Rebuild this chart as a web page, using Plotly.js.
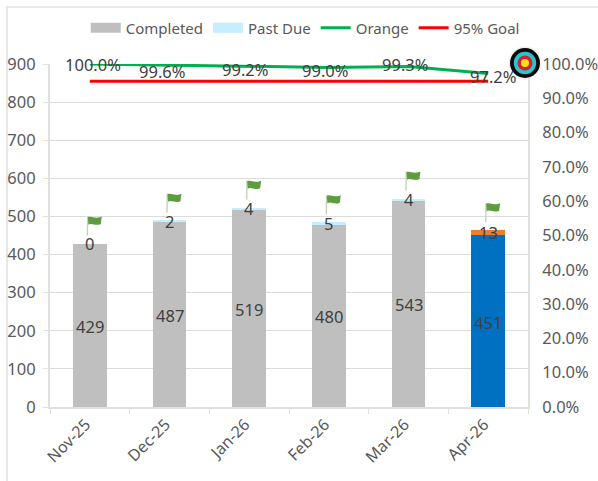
<!DOCTYPE html>
<html>
<head>
<meta charset="utf-8">
<script src="https://cdn.plot.ly/plotly-3.0.1.min.js"></script>
<style>html,body{margin:0;padding:0;background:#fff;overflow:hidden}#c{width:598px;height:481px}</style>
</head>
<body>
<div id="c"></div>
<script>
const categories = ['Nov-25','Dec-25','Jan-26','Feb-26','Mar-26','Apr-26'];
const completed = [429,487,519,480,543,451];
const pastDue = [0,2,4,5,4,13];
const orange = [100.0,99.6,99.2,99.0,99.3,97.2];
const goal = [95,95,95,95,95,95];
const completedColors = ['#BFBFBF','#BFBFBF','#BFBFBF','#BFBFBF','#BFBFBF','#0070C0'];
const pastDueColors = ['#C5EEFF','#C5EEFF','#C5EEFF','#C5EEFF','#C5EEFF','#ED7D31'];

const FONT = '"Noto Sans", sans-serif';
const SIZE = 16.5;
const AXIS = '#595959', LABEL = '#404040', GRID = '#DCDCDC', LINE = '#E0E0E0';

const svgUri = s => 'data:image/svg+xml;utf8,' + encodeURIComponent(s);
const flagSvg = svgUri('<svg xmlns="http://www.w3.org/2000/svg" width="40" height="30" viewBox="0 0 40 30">' +
  '<path d="M17.5 22 L17.8 3" stroke="#C4D4B8" stroke-width="1.4" fill="none"/>' +
  '<path d="M18 3.5 C22 2,25 6,32 3 L31 10.5 C26 13,22 9,18.5 11 Z" fill="#5E9C3F"/></svg>');
const targetSvg = svgUri('<svg xmlns="http://www.w3.org/2000/svg" width="34" height="34" viewBox="0 0 34 34">' +
  '<circle cx="17" cy="17" r="16.8" fill="#F4E4E4" opacity="0.5"/>' +
  '<circle cx="17" cy="17" r="15" fill="#0A0A0A"/>' +
  '<circle cx="17" cy="17" r="11.2" fill="#25C6D0"/>' +
  '<circle cx="17" cy="17" r="7.5" fill="#D6202A"/>' +
  '<circle cx="17" cy="17" r="4" fill="#F5E21C"/></svg>');

const lineNudge = [[3,0],[-8,6],[-4,3],[-4,3],[-4,-2],[5,3]];

const annotations = [];
const addLabel = (i, y, yref, text, dx, dy) => annotations.push({
  x: categories[i], y, xref: 'x', yref, text: String(text), showarrow: false,
  xshift: dx, yshift: -dy, font: {family: FONT, size: SIZE, color: LABEL}
});
categories.forEach((_, i) => {
  addLabel(i, completed[i] / 2, 'y', completed[i], 0, 1);
  addLabel(i, completed[i] + pastDue[i] / 2, 'y', pastDue[i], 0, 0);
  addLabel(i, orange[i], 'y2', orange[i].toFixed(1) + '%', lineNudge[i][0], lineNudge[i][1]);
});

const images = categories.map((c, i) => ({
  source: flagSvg, xref: 'x', yref: 'y', x: i, y: completed[i] + pastDue[i],
  sizex: 0.5, sizey: 78.7, xanchor: 'center', yanchor: 'bottom', sizing: 'stretch', layer: 'above'
}));
images.push({
  source: targetSvg, xref: 'paper', yref: 'paper', x: (525 - 50) / 478, y: (407 - 63) / 343,
  sizex: 34 / 478, sizey: 34 / 343, xanchor: 'center', yanchor: 'middle', sizing: 'stretch', layer: 'above'
});

const noValues = categories.map(() => null);
const traces = [
  {type: 'bar', x: categories, y: completed, name: 'Completed', marker: {color: completedColors}, width: 0.42, showlegend: false, hoverinfo: 'x+y'},
  {type: 'bar', x: categories, y: pastDue, name: 'Past Due', marker: {color: pastDueColors}, width: 0.42, showlegend: false, hoverinfo: 'x+y'},
  {type: 'scatter', mode: 'lines', x: categories, y: noValues, name: 'Completed', line: {color: '#BFBFBF', width: 10}, hoverinfo: 'skip'},
  {type: 'scatter', mode: 'lines', x: categories, y: noValues, name: 'Past Due', line: {color: '#C5EEFF', width: 10}, hoverinfo: 'skip'},
  {type: 'scatter', mode: 'lines', x: categories, y: orange, name: 'Orange', yaxis: 'y2', line: {color: '#00B050', width: 3}, cliponaxis: false},
  {type: 'scatter', mode: 'lines', x: categories, y: goal, name: '95% Goal', yaxis: 'y2', line: {color: '#FF0000', width: 3}, cliponaxis: false}
];

const layout = {
  width: 598, height: 481, barmode: 'stack',
  margin: {l: 50, r: 70, t: 64, b: 74, pad: 0},
  paper_bgcolor: '#fff', plot_bgcolor: '#fff',
  font: {family: FONT, size: SIZE, color: AXIS},
  showlegend: true,
  legend: {orientation: 'h', x: 0.534, y: 1.105, xanchor: 'center', yanchor: 'middle', traceorder: 'normal',
           font: {family: FONT, size: 15, color: AXIS}, itemwidth: 30, itemclick: false, itemdoubleclick: false,
           bgcolor: 'rgba(0,0,0,0)'},
  xaxis: {type: 'category', categories, categoryorder: 'array', range: [-0.5, 5.5], tickangle: -45,
          tickson: 'boundaries', ticks: 'outside', ticklen: 5, tickcolor: LINE, tickwidth: 1,
          showline: true, linecolor: LINE, linewidth: 2, showgrid: false, ticklabelshift: -4,
          tickfont: {family: FONT, size: 16, color: AXIS}},
  yaxis: {range: [0, 900], dtick: 100, ticks: 'outside', ticklen: 5, tickcolor: LINE, tickwidth: 1,
          showline: true, linecolor: LINE, linewidth: 2, gridcolor: GRID, gridwidth: 1, zeroline: false,
          ticklabelstandoff: 4, tickfont: {family: FONT, size: SIZE, color: AXIS}},
  yaxis2: {overlaying: 'y', side: 'right', range: [0, 100], dtick: 10, ticksuffix: '%', tickformat: '.1f',
           ticks: '', showline: true, linecolor: LINE, linewidth: 2, showgrid: false, zeroline: false,
           ticklabelstandoff: 9, tickfont: {family: FONT, size: SIZE, color: AXIS}},
  shapes: [{type: 'rect', xref: 'paper', yref: 'paper', layer: 'below',
            x0: (7 - 50) / 478, x1: (640 - 50) / 478, y0: (407 - 520) / 343, y1: (407 - 7) / 343,
            line: {color: '#E8E8E8', width: 2}, fillcolor: 'rgba(0,0,0,0)'}],
  annotations, images
};

Plotly.newPlot('c', traces, layout, {displayModeBar: false, responsive: false});
</script>
</body>
</html>
